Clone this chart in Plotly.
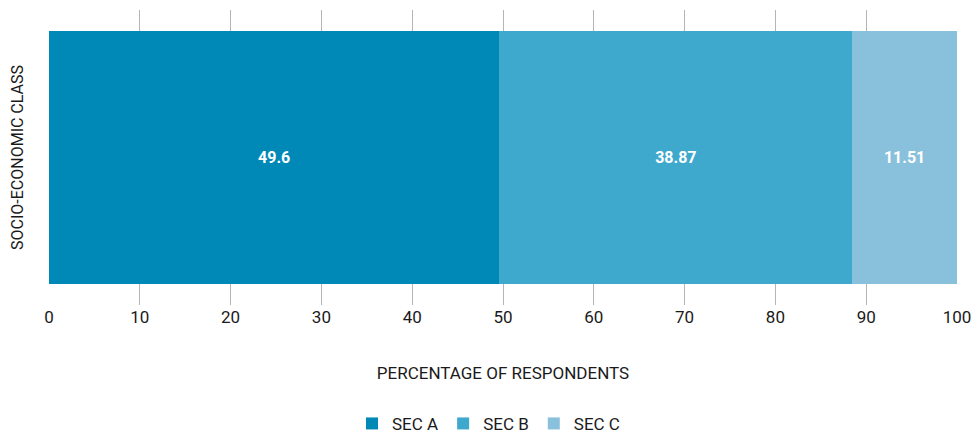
import plotly.graph_objects as go

categories = ["SOCIO-ECONOMIC CLASS"]
series_names = ["SEC A", "SEC B", "SEC C"]
series_values = [[49.6], [38.87], [11.51]]
series_colors = ["#0089b6", "#3ea8cd", "#89c1dd"]
tick_values = [0, 10, 20, 30, 40, 50, 60, 70, 80, 90, 100]

fig = go.Figure()
for name, vals, color in zip(series_names, series_values, series_colors):
    fig.add_trace(go.Bar(
        y=categories,
        x=vals,
        name=name,
        orientation="h",
        marker=dict(color=color, line=dict(width=0)),
        text=[str(v) for v in vals],
        textposition="inside",
        insidetextanchor="middle",
        textfont=dict(color="white", size=16, family="Roboto", weight="bold"),
    ))

fig.update_layout(
    barmode="stack",
    bargap=0.142,
    width=977,
    height=437,
    margin=dict(l=49, r=20, t=10, b=132, autoexpand=False),
    paper_bgcolor="white",
    plot_bgcolor="white",
    font=dict(family="Roboto", size=17, color="#1a1a1a"),
    legend=dict(
        orientation="h",
        x=0.5, xanchor="center",
        xref="container",
        y=0.03, yanchor="middle",
        yref="container",
        font=dict(size=17, color="#1a1a1a"),
        itemwidth=30,
        traceorder="normal",
    ),
    xaxis=dict(
        range=[0, 100],
        tickvals=tick_values,
        showgrid=True,
        gridcolor="#b5b5b5",
        gridwidth=1,
        zeroline=False,
        showline=False,
        ticks="",
        automargin=False,
        tickfont=dict(size=17, color="#1a1a1a"),
        title=dict(text="PERCENTAGE OF RESPONDENTS", font=dict(size=17, color="#1a1a1a"), standoff=41),
    ),
    yaxis=dict(
        showticklabels=False,
        showgrid=False,
        zeroline=False,
        automargin=False,
        title=dict(text="SOCIO-ECONOMIC CLASS", font=dict(size=16, color="#1a1a1a"), standoff=20),
    ),
)

fig.write_html("out.html")
